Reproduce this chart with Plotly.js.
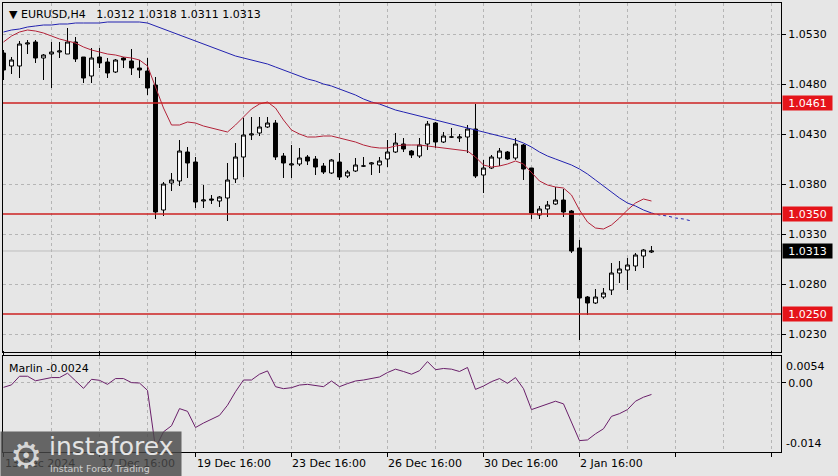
<!DOCTYPE html>
<html><head><meta charset="utf-8">
<script src="https://cdn.plot.ly/plotly-3.0.1.min.js"></script>
<style>html,body{margin:0;padding:0;background:#e6e6e6;}#chart{width:838px;height:476px;}</style>
</head><body><div id="chart"></div>
<script>
const symbol = 'EURUSD,H4';
const open  = [1.0511,1.0498,1.0498,1.0520,1.0522,1.0506,1.0510,1.0512,1.0510,1.0522,1.0507,1.0488,1.0507,1.0502,1.0492,1.0506,1.0503,1.0496,1.0493,1.0479,
               1.0354,1.0381,1.0383,1.0412,1.0402,1.0363,1.0365,1.0363,1.0366,1.0385,1.0407,1.0429,1.0431,1.0437,1.0441,1.0408,1.0399,1.0400,1.0407,1.0405,
               1.0398,1.0391,1.0402,1.0388,1.0393,1.0398,1.0400,1.0399,1.0405,1.0412,1.0420,1.0413,1.0408,1.0420,1.0441,1.0422,1.0427,1.0426,1.0427,1.0435,
               1.0389,1.0396,1.0406,1.0412,1.0406,1.0419,1.0396,1.0349,1.0355,1.0360,1.0364,1.0353,1.0316,1.0267,1.0261,1.0267,1.0274,1.0291,1.0294,1.0298,
               1.0308,1.0312];
const high  = [1.0514,1.0507,1.0523,1.0524,1.0524,1.0510,1.0522,1.0522,1.0536,1.0527,1.0507,1.0516,1.0516,1.0506,1.0505,1.0507,1.0515,1.0504,1.0506,1.0487,
               1.0382,1.0391,1.0424,1.0417,1.0407,1.0379,1.0369,1.0368,1.0401,1.0421,1.0446,1.0447,1.0447,1.0447,1.0444,1.0411,1.0419,1.0416,1.0409,1.0408,
               1.0401,1.0405,1.0411,1.0394,1.0406,1.0407,1.0402,1.0407,1.0424,1.0431,1.0426,1.0414,1.0426,1.0443,1.0442,1.0432,1.0436,1.0430,1.0439,1.0460,
               1.0404,1.0409,1.0416,1.0413,1.0426,1.0420,1.0396,1.0358,1.0363,1.0377,1.0375,1.0354,1.0324,1.0268,1.0275,1.0276,1.0301,1.0303,1.0306,1.0311,
               1.0315,1.0318];
const low   = [1.0484,1.0490,1.0486,1.0510,1.0501,1.0484,1.0476,1.0506,1.0510,1.0502,1.0481,1.0481,1.0496,1.0486,1.0491,1.0496,1.0489,1.0486,1.0469,1.0345,
               1.0348,1.0373,1.0378,1.0386,1.0356,1.0356,1.0360,1.0357,1.0343,1.0381,1.0387,1.0424,1.0428,1.0436,1.0404,1.0386,1.0386,1.0398,1.0399,1.0389,
               1.0390,1.0390,1.0384,1.0386,1.0392,1.0397,1.0389,1.0391,1.0397,1.0411,1.0412,1.0406,1.0406,1.0414,1.0416,1.0421,1.0426,1.0422,1.0411,1.0386,
               1.0371,1.0395,1.0398,1.0404,1.0404,1.0384,1.0345,1.0345,1.0347,1.0359,1.0347,1.0311,1.0224,1.0249,1.0260,1.0265,1.0269,1.0281,1.0274,1.0293,
               1.0296,1.0311];
const close = [1.0494,1.0504,1.0520,1.0521,1.0506,1.0509,1.0512,1.0513,1.0522,1.0505,1.0486,1.0506,1.0501,1.0491,1.0504,1.0504,1.0496,1.0494,1.0476,1.0352,
               1.0380,1.0384,1.0413,1.0401,1.0362,1.0364,1.0364,1.0367,1.0384,1.0407,1.0429,1.0430,1.0437,1.0441,1.0407,1.0401,1.0400,1.0406,1.0403,1.0397,
               1.0392,1.0404,1.0387,1.0392,1.0399,1.0398,1.0401,1.0403,1.0412,1.0421,1.0415,1.0409,1.0419,1.0440,1.0422,1.0428,1.0427,1.0427,1.0435,1.0388,
               1.0396,1.0407,1.0413,1.0405,1.0420,1.0395,1.0351,1.0355,1.0359,1.0364,1.0352,1.0313,1.0266,1.0261,1.0267,1.0271,1.0291,1.0295,1.0299,1.0309,
               1.0314,1.0313];
const maFast = [1.0522,1.0528,1.0532,1.0534,1.0533,1.0531,1.0528,1.0525,1.0523,1.0521,1.0517,1.0514,1.0512,1.0510,1.0509,1.0507,1.0506,1.0504,1.0498,1.0478,
                1.0456,1.0439,1.0439,1.0442,1.0441,1.0438,1.0436,1.0434,1.0432,1.0439,1.0447,1.0455,1.0460,1.0462,1.0456,1.0444,1.0434,1.0430,1.0427,1.0427,
                1.0428,1.0428,1.0426,1.0424,1.0422,1.0419,1.0417,1.0416,1.0416,1.0418,1.0419,1.0419,1.0419,1.0418,1.0417,1.0416,1.0415,1.0414,1.0413,1.0407,
                1.0399,1.0397,1.0398,1.0400,1.0403,1.0400,1.0392,1.0383,1.0379,1.0377,1.0376,1.0369,1.0354,1.0342,1.0336,1.0335,1.0339,1.0346,1.0354,1.0361,
                1.0365,1.0363];
const maSlow = [1.0532,1.0534,1.0535,1.0537,1.0538,1.0539,1.0539,1.0540,1.0540,1.0541,1.0541,1.0541,1.0541,1.0542,1.0542,1.0542,1.0542,1.0542,1.0541,1.0538,
                1.0535,1.0532,1.0529,1.0526,1.0523,1.0520,1.0517,1.0514,1.0511,1.0508,1.0506,1.0504,1.0502,1.0500,1.0497,1.0494,1.0491,1.0488,1.0485,1.0483,
                1.0480,1.0478,1.0475,1.0472,1.0469,1.0465,1.0462,1.0460,1.0457,1.0454,1.0452,1.0450,1.0448,1.0446,1.0444,1.0442,1.0440,1.0438,1.0436,1.0434,
                1.0432,1.0430,1.0428,1.0426,1.0424,1.0421,1.0417,1.0412,1.0408,1.0405,1.0402,1.0399,1.0395,1.0390,1.0384,1.0378,1.0372,1.0366,1.0361,1.0358,
                1.0354,1.0351];
const maSlowAhead = [1.0351,1.0349,1.0348,1.0346,1.0345,1.0343];
const marlin = [-0.00094,-0.00043,0.00131,0.00131,0.00039,0.00069,0.00104,0.00104,0.00192,0.00039,-0.00114,0.00069,0.00049,-0.00033,0.00084,0.00084,0.00002,-0.00006,-0.00155,-0.01319,
                -0.00992,-0.00870,-0.00523,-0.00578,-0.00905,-0.00815,-0.00733,-0.00660,-0.00455,-0.00182,0.00055,0.00055,0.00172,0.00239,-0.00080,-0.00120,-0.00100,-0.00047,-0.00033,-0.00053,
                -0.00080,0.00035,-0.00080,-0.00018,0.00035,0.00055,0.00084,0.00116,0.00206,0.00274,0.00227,0.00172,0.00243,0.00427,0.00263,0.00288,0.00274,0.00227,0.00308,-0.00135,
                -0.00067,0.00022,0.00084,-0.00012,0.00104,-0.00120,-0.00543,-0.00488,-0.00441,-0.00374,-0.00427,-0.00803,-0.01170,-0.01156,-0.01033,-0.00931,-0.00680,-0.00625,-0.00543,-0.00374,
                -0.00292,-0.00237];
const levels = [1.0461, 1.0350, 1.0250];
const priceTicks = [1.0230, 1.0280, 1.0330, 1.0380, 1.0430, 1.0480, 1.0530];
const marlinRange = [-0.014, 0.0054];
const timeLabels = ['13 Dec 2024','17 Dec 16:00','19 Dec 16:00','23 Dec 16:00','26 Dec 16:00','30 Dec 16:00','2 Jan 16:00'];
const timeLabelBars = [0, 12, 24, 36, 48, 60, 72];

const bars = close.map((_, i) => i);
const aheadBars = maSlowAhead.map((_, i) => bars.length - 1 + i);
const last = bars.length - 1;
const FONT = 'DejaVu Sans, sans-serif';
const BG = '#e6e6e6';
const GRID = '#b5b5b5';

const traces = [
  {type:'scatter', mode:'lines', x:bars, y:maSlow, xaxis:'x', yaxis:'y', line:{color:'#2323b0', width:1}, hoverinfo:'skip'},
  {type:'scatter', mode:'lines', x:aheadBars, y:maSlowAhead, xaxis:'x', yaxis:'y', line:{color:'#2323b0', width:1, dash:'3px,3px'}, hoverinfo:'skip'},
  {type:'scatter', mode:'lines', x:bars, y:maFast, xaxis:'x', yaxis:'y', line:{color:'#b3243a', width:1}, hoverinfo:'skip'},
  {type:'candlestick', x:bars, open:open, high:high, low:low, close:close, xaxis:'x', yaxis:'y',
   increasing:{line:{color:'#000', width:1}, fillcolor:'#ffffff'},
   decreasing:{line:{color:'#000', width:1}, fillcolor:'#000000'},
   whiskerwidth:0, hoverinfo:'skip'},
  {type:'scatter', mode:'lines', x:bars, y:marlin, xaxis:'x', yaxis:'y2', line:{color:'#6a1f6a', width:1}, hoverinfo:'skip'}
];

const shapes = [];
shapes.push({type:'line', xref:'paper', x0:0, x1:1, yref:'y', y0:close[last], y1:close[last], line:{color:'#bdbdbd', width:1}, layer:'below'});
levels.forEach(v => shapes.push({type:'line', xref:'paper', x0:0, x1:1, yref:'y', y0:v, y1:v, line:{color:'#cc2222', width:1.5}}));

const annotations = [];
annotations.push({xref:'paper', yref:'paper', x:0.005, y:1, xanchor:'left', yanchor:'top', yshift:-3, showarrow:false,
  text:'▼ ' + symbol + '\u00a0\u00a0 ' + [open[last], high[last], low[last], close[last]].map(v => v.toFixed(4)).join(' '),
  font:{family:FONT, size:11, color:'#000'}});
annotations.push({xref:'paper', yref:'paper', x:0.005, y:0.2138, xanchor:'left', yanchor:'top', yshift:-4, showarrow:false,
  text:'Marlin ' + marlin[last].toFixed(4), font:{family:FONT, size:11, color:'#000'}});
levels.forEach(v => annotations.push({xref:'paper', yref:'y', x:1, y:v, xanchor:'left', yanchor:'middle', xshift:1, showarrow:false,
  text:v.toFixed(4), bgcolor:'#e5141a', borderpad:1, width:47, height:12, align:'center', font:{family:FONT, size:11, color:'#fff'}}));
annotations.push({xref:'paper', yref:'y', x:1, y:close[last], xanchor:'left', yanchor:'middle', xshift:1, showarrow:false,
  text:close[last].toFixed(4), bgcolor:'#000', borderpad:1, width:47, height:12, align:'center', font:{family:FONT, size:11, color:'#fff'}});
annotations.push({xref:'paper', yref:'y2', x:1, y:marlinRange[1], xanchor:'left', yanchor:'top', xshift:3, yshift:-2, showarrow:false,
  text:marlinRange[1].toFixed(4), font:{family:FONT, size:11, color:'#000'}});
annotations.push({xref:'paper', yref:'y2', x:1, y:marlinRange[0], xanchor:'left', yanchor:'bottom', xshift:3, showarrow:false,
  text:marlinRange[0].toFixed(3), font:{family:FONT, size:11, color:'#000'}});
timeLabels.forEach((t, i) => annotations.push({xref:'x', yref:'paper', x:timeLabelBars[i], y:0, xanchor:'left', yanchor:'top', yshift:-3, xshift:-1,
  showarrow:false, text:t, font:{family:FONT, size:11, color:'#000'}}));
// watermark
annotations.push({xref:'paper', yref:'paper', x:-0.00386, y:0.0468, xanchor:'left', yanchor:'top', showarrow:false, text:'',
  width:180, height:45, borderpad:0, bgcolor:'rgba(72,72,72,0.82)'});
annotations.push({xref:'paper', yref:'paper', x:0.006, y:0.043, xanchor:'left', yanchor:'top', showarrow:false, text:'⚙',
  font:{family:FONT, size:36, color:'#d5d5d5'}});
annotations.push({xref:'paper', yref:'paper', x:0.056, y:0.05, xanchor:'left', yanchor:'top', showarrow:false, text:'instaforex',
  font:{family:FONT, size:25, color:'#e4e4e4'}});
annotations.push({xref:'paper', yref:'paper', x:0.058, y:-0.02, xanchor:'left', yanchor:'top', showarrow:false, text:'Instant Forex Trading',
  font:{family:FONT, size:9.5, color:'#cfcfcf'}});

const layout = {
  width:838, height:476,
  margin:{l:3, r:57, t:3, b:24, pad:0},
  paper_bgcolor:BG, plot_bgcolor:BG,
  showlegend:false, hovermode:false,
  font:{family:FONT, size:11, color:'#000'},
  xaxis:{domain:[0,1], range:[-0.0625, 97.19], anchor:'y2', tickmode:'linear', tick0:0, dtick:12,
    ticks:'outside', ticklen:4, tickcolor:'#000', showticklabels:false,
    showgrid:true, gridcolor:GRID, griddash:'3px,3px', gridwidth:1,
    minor:{tick0:0, dtick:6, showgrid:true, gridcolor:GRID, griddash:'3px,3px', gridwidth:1, ticks:''},
    showline:true, linecolor:'#000', linewidth:1, mirror:'all', zeroline:false,
    rangeslider:{visible:false}, fixedrange:true},
  yaxis:{domain:[0.2227,1], range:[1.0212, 1.0561], anchor:'x', side:'right',
    tickmode:'array', tickvals:priceTicks, ticktext:priceTicks.map(v => v.toFixed(4)),
    ticks:'outside', ticklen:4, tickcolor:'#000', tickfont:{family:FONT, size:11, color:'#000'},
    showgrid:true, gridcolor:GRID, griddash:'3px,3px', gridwidth:1,
    showline:true, linecolor:'#000', linewidth:1, mirror:true, zeroline:false, fixedrange:true},
  yaxis2:{domain:[0,0.2138], range:marlinRange, anchor:'x', side:'right',
    tickmode:'array', tickvals:[0], ticktext:['0.00'],
    ticks:'outside', ticklen:4, tickcolor:'#000', tickfont:{family:FONT, size:11, color:'#000'},
    showgrid:true, gridcolor:GRID, griddash:'3px,3px', gridwidth:1,
    showline:true, linecolor:'#000', linewidth:1, mirror:true, zeroline:false, fixedrange:true},
  shapes:shapes,
  annotations:annotations
};

Plotly.newPlot('chart', traces, layout, {staticPlot:true, displayModeBar:false});
</script>
</body></html>
